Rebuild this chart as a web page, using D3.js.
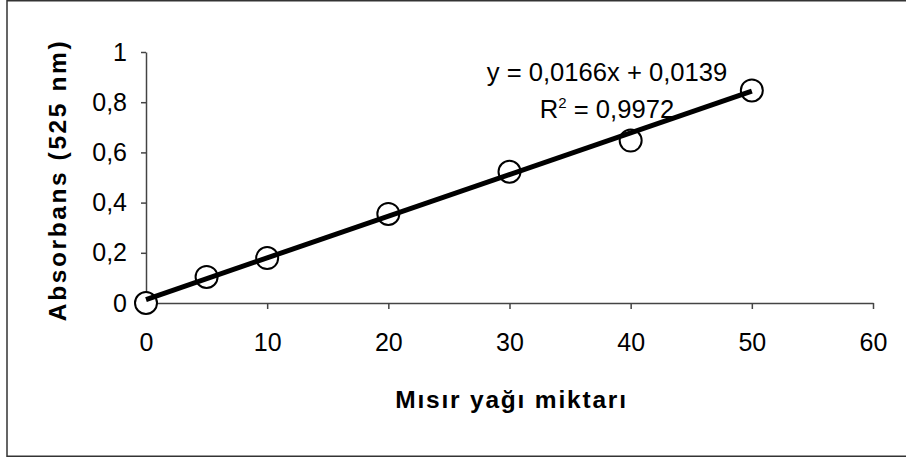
<!DOCTYPE html>
<html>
<head>
<meta charset="utf-8">
<script src="https://cdn.jsdelivr.net/npm/d3@7"></script>
<style>
  html, body { margin: 0; padding: 0; background: #fff; }
  svg { display: block; }
  text { font-family: "Liberation Sans", Arial, sans-serif; fill: #000; }
</style>
</head>
<body>
<svg id="chart" width="906" height="459"></svg>
<script>
// ---- data ----
const amounts = [0, 5, 10, 20, 30, 40, 50];
const absorbance = [0, 0.104, 0.179, 0.355, 0.523, 0.647, 0.847];
const slope = 0.0166;
const intercept = 0.0139;
const rSquared = "0,9972";
const xTicks = [0, 10, 20, 30, 40, 50, 60];
const yTicks = [0, 0.2, 0.4, 0.6, 0.8, 1];
const xTitle = "Mısır yağı miktarı";
const yTitle = "Absorbans (525 nm)";

const W = 906, H = 459;
const margin = { left: 146, top: 52, right: 33, bottom: 156 };
const svg = d3.select("#chart");

// outer frame
svg.append("rect").attr("x", 7).attr("y", 0.75).attr("width", W - 7 + 5).attr("height", 455.5)
  .attr("fill", "none").attr("stroke", "#333").attr("stroke-width", 1.5);

const x = d3.scaleLinear().domain([0, 60]).range([margin.left, W - margin.right]);
const y = d3.scaleLinear().domain([0, 1]).range([H - margin.bottom, margin.top]);
const fmt = d => d3.format("~g")(d).replace(".", ",");

// axes
const xAxis = svg.append("g").attr("transform", `translate(0,${y(0)})`)
  .call(d3.axisBottom(x).tickValues(xTicks).tickSize(6).tickPadding(24).tickFormat(fmt).tickSizeOuter(0));
const yAxis = svg.append("g").attr("transform", `translate(${x(0)},0)`)
  .call(d3.axisLeft(y).tickValues(yTicks).tickSize(5).tickPadding(14).tickFormat(fmt).tickSizeOuter(0));
[xAxis, yAxis].forEach(a => {
  a.select(".domain").attr("stroke", "#444").attr("stroke-width", 1.5);
  a.selectAll(".tick line").attr("stroke", "#444").attr("stroke-width", 1.5);
  a.selectAll("text").attr("font-size", 25).attr("font-family", "Liberation Sans, Arial, sans-serif").attr("fill", "#000");
});

// markers
const pts = amounts.map((a, i) => ({ a, v: absorbance[i] }));
svg.append("g").selectAll("circle").data(pts).join("circle")
  .attr("cx", d => x(d.a)).attr("cy", d => y(d.v)).attr("r", 11)
  .attr("fill", "#fff").attr("stroke", "#000").attr("stroke-width", 2);

// trend line
svg.append("line")
  .attr("x1", x(0)).attr("y1", y(intercept))
  .attr("x2", x(50)).attr("y2", y(slope * 50 + intercept))
  .attr("stroke", "#000").attr("stroke-width", 5).attr("stroke-linecap", "butt");

// equation
const eqX = 607;
svg.append("text").attr("x", eqX).attr("y", 81).attr("text-anchor", "middle").attr("font-size", 25.6)
  .text("y = " + String(slope).replace(".", ",") + "x + " + String(intercept).replace(".", ","));
const r2 = svg.append("text").attr("x", eqX).attr("y", 118).attr("text-anchor", "middle").attr("font-size", 25.6);
r2.append("tspan").text("R");
r2.append("tspan").attr("font-size", 15).attr("dy", -10).text("2");
r2.append("tspan").attr("dy", 10).text(" = " + rSquared);

// axis titles
svg.append("text").attr("x", (x(0) + x(60)) / 2 + 2).attr("y", 408).attr("text-anchor", "middle")
  .attr("font-size", 24.5).attr("font-weight", "bold").attr("letter-spacing", 1.8).text(xTitle);
svg.append("text").attr("transform", "translate(66,180) rotate(-90)").attr("text-anchor", "middle")
  .attr("font-size", 24.5).attr("font-weight", "bold").attr("letter-spacing", 2.6).text(yTitle);
</script>
</body>
</html>
